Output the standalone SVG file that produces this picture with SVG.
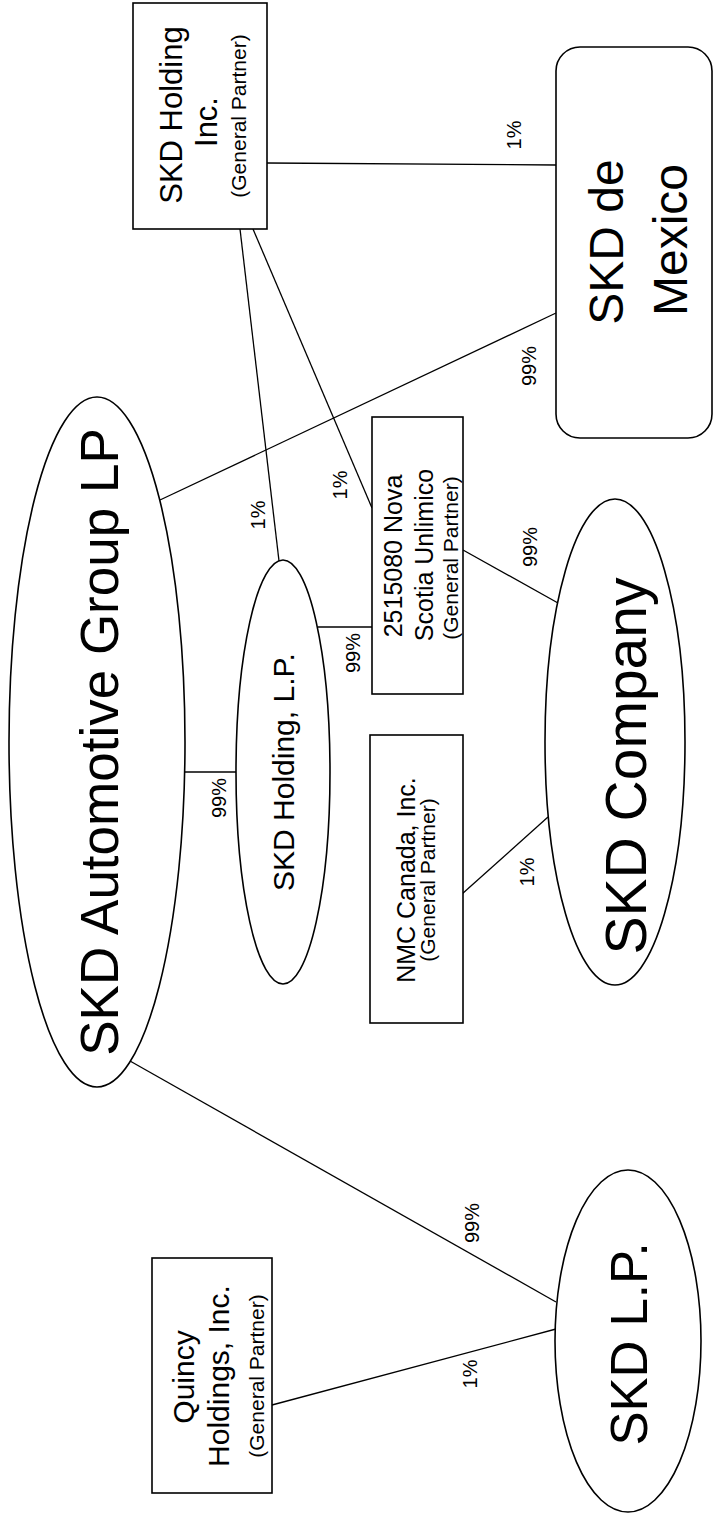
<svg xmlns="http://www.w3.org/2000/svg" width="713" height="1518" viewBox="0 0 713 1518">
<style>
.s{fill:#fff;stroke:#000;stroke-width:1.6}
.c line{stroke:#000;stroke-width:1.3}
text{font-family:"Liberation Sans",Arial,sans-serif;fill:#000;text-anchor:middle}
.lb{font-size:20px}
.gp{font-size:21px}
</style>
<rect width="713" height="1518" fill="#fff"/>
<g id="connectors" class="c">
<line x1="267" y1="163" x2="556" y2="165"/>
<line x1="556" y1="313" x2="160" y2="500"/>
<line x1="240" y1="229" x2="279" y2="561"/>
<line x1="253" y1="229" x2="372" y2="508"/>
<line x1="185" y1="772" x2="236" y2="772"/>
<line x1="318" y1="627" x2="372" y2="627"/>
<line x1="463" y1="550" x2="558" y2="603"/>
<line x1="462" y1="894" x2="548" y2="817"/>
<line x1="130" y1="1061" x2="556" y2="1302"/>
<line x1="272" y1="1405" x2="556" y2="1329"/>
</g>
<g id="labels" class="lb">
<text transform="rotate(-90 521 135)" x="521" y="135">1%</text>
<text transform="rotate(-90 536 366)" x="536" y="366">99%</text>
<text transform="rotate(-90 347 485)" x="347" y="485">1%</text>
<text transform="rotate(-90 265 515)" x="265" y="515">1%</text>
<text transform="rotate(-90 226 798)" x="226" y="798">99%</text>
<text transform="rotate(-90 360 653)" x="360" y="653">99%</text>
<text transform="rotate(-90 537 547)" x="537" y="547">99%</text>
<text transform="rotate(-90 534 872)" x="534" y="872">1%</text>
<text transform="rotate(-90 479 1223)" x="479" y="1223">99%</text>
<text transform="rotate(-90 477 1374)" x="477" y="1374">1%</text>
</g>
<g id="skd-holding-inc">
<rect class="s" x="133" y="3" width="134" height="226"/>
<text transform="rotate(-90 182 115)" x="182" y="115" font-size="31">SKD Holding</text>
<text transform="rotate(-90 217 122)" x="217" y="122" font-size="31">Inc.</text>
<text class="gp" transform="rotate(-90 246 116)" x="246" y="116">(General Partner)</text>
</g>
<g id="skd-de-mexico">
<rect class="s" x="556" y="47" width="156" height="391" rx="24"/>
<text transform="rotate(-90 623 242)" x="623" y="242" font-size="48">SKD de</text>
<text transform="rotate(-90 687 240)" x="687" y="240" font-size="48">Mexico</text>
</g>
<g id="skd-automotive-group-lp">
<ellipse class="s" cx="97" cy="742" rx="88" ry="345"/>
<text transform="rotate(-90 118 742)" x="118" y="742" font-size="53">SKD Automotive Group LP</text>
</g>
<g id="skd-holding-lp">
<ellipse class="s" cx="283" cy="772" rx="47" ry="212"/>
<text transform="rotate(-90 294 772)" x="294" y="772" font-size="30">SKD Holding, L.P.</text>
</g>
<g id="nova-scotia">
<rect class="s" x="372" y="417" width="91" height="277"/>
<text transform="rotate(-90 402 556)" x="402" y="556" font-size="25">2515080 Nova</text>
<text transform="rotate(-90 433 555)" x="433" y="555" font-size="25">Scotia Unlimico</text>
<text class="gp" transform="rotate(-90 458 558)" x="458" y="558">(General Partner)</text>
</g>
<g id="nmc-canada">
<rect class="s" x="370" y="735" width="93" height="288"/>
<text transform="rotate(-90 415 880)" x="415" y="880" font-size="25">NMC Canada, Inc.</text>
<text class="gp" transform="rotate(-90 435 880)" x="435" y="880">(General Partner)</text>
</g>
<g id="skd-company">
<ellipse class="s" cx="615" cy="742" rx="70" ry="243"/>
<text transform="rotate(-90 646 766)" x="646" y="766" font-size="57">SKD Company</text>
</g>
<g id="quincy">
<rect class="s" x="152" y="1258" width="120" height="235"/>
<text transform="rotate(-90 194 1377)" x="194" y="1377" font-size="30">Quincy</text>
<text transform="rotate(-90 229 1376)" x="229" y="1376" font-size="30">Holdings, Inc.</text>
<text class="gp" transform="rotate(-90 264 1376)" x="264" y="1376">(General Partner)</text>
</g>
<g id="skd-lp">
<ellipse class="s" cx="628" cy="1341" rx="73" ry="171"/>
<text transform="rotate(-90 647 1344)" x="647" y="1344" font-size="51">SKD L.P.</text>
</g>
</svg>
